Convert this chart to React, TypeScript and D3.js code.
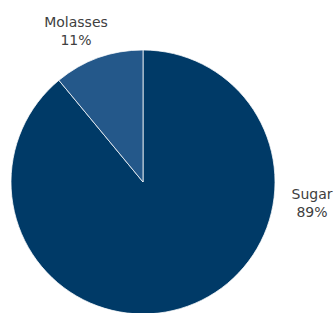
import React from "react";
import * as d3 from "d3";

const categories = ["Sugar", "Molasses"];
const values = [89, 11];
const colors = ["#003A67", "#24588A"];

// layout (label anchor points in pixels, not data)
const W = 336, H = 313;
const CX = 143, CY = 182, R = 132;
const labelPos: Record<string, [number, number]> = {
  Sugar: [312, 199],
  Molasses: [76, 27],
};

export default function App() {
  const data = categories.map((c, i) => ({ name: c, value: values[i], color: colors[i] }));
  const pie = d3.pie<any>().value((d) => d.value).sort(null);
  const arcs = pie(data);
  const arc = d3.arc<any>().innerRadius(0).outerRadius(R);
  return (
    <svg width={W} height={H} style={{ position: "absolute", left: 0, top: 0, display: "block" }}>
      <rect width={W} height={H} fill="#fff" />
      <g transform={`translate(${CX},${CY})`}>
        {arcs.map((a, i) => (
          <path key={i} d={arc(a) as string} fill={a.data.color} stroke="#fff" strokeWidth={0.75} strokeLinejoin="round" />
        ))}
      </g>
      {arcs.map((a, i) => {
        const [x, y] = labelPos[a.data.name];
        return (
          <text key={i} x={x} y={y} textAnchor="middle" fontFamily="DejaVu Sans" fontSize={14} fill="#404040">
            <tspan x={x}>{a.data.name}</tspan>
            <tspan x={x} dy={18}>{`${a.data.value}%`}</tspan>
          </text>
        );
      })}
    </svg>
  );
}
